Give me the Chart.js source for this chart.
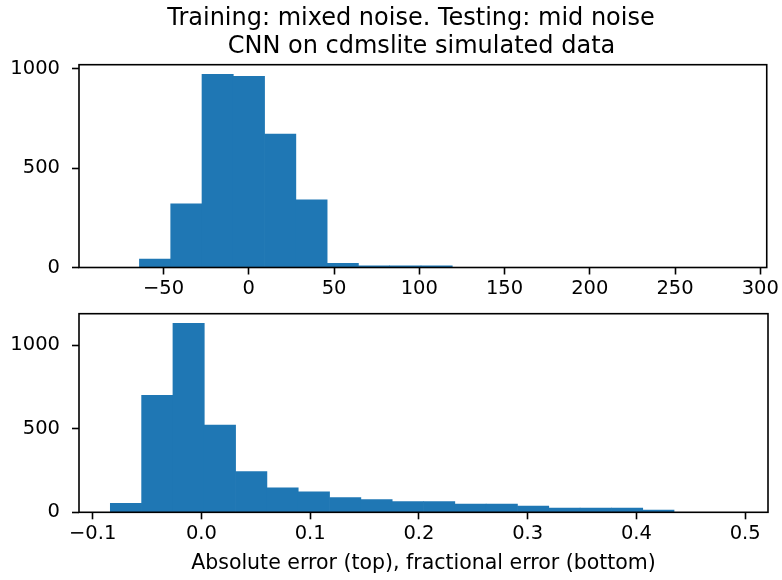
<!DOCTYPE html>
<html>
<head>
<meta charset="utf-8">
<title>CNN on cdmslite simulated data</title>
<script src="https://cdn.jsdelivr.net/npm/chart.js@4.4.1/dist/chart.umd.min.js"></script>
<style>
  html, body { margin: 0; padding: 0; background: #fff; }
  #wrap { position: relative; width: 782px; height: 580px; }
  .box { position: absolute; left: 0; width: 782px; }
  #topBox { top: 0; height: 300px; }
  #bottomBox { top: 290px; height: 290px; }
</style>
</head>
<body>
<div id="wrap">
  <div class="box" id="topBox"><canvas id="topChart" width="782" height="300"></canvas></div>
  <div class="box" id="bottomBox"><canvas id="bottomChart" width="782" height="290"></canvas></div>
</div>
<script>
// Texts
const titleLines = ["Training: mixed noise. Testing: mid noise", "CNN on cdmslite simulated data"];
const xLabel = "Absolute error (top), fractional error (bottom)";

// Top histogram: absolute error (20 bins)
const topEdges = [-82.5, -64.15, -45.8, -27.45, -9.1, 9.25, 27.6, 45.95, 64.3, 82.65, 101.0,
                  119.35, 137.7, 156.05, 174.4, 192.75, 211.1, 229.45, 247.8, 266.15, 284.5];
const topCounts = [0, 43, 321, 972, 962, 672, 341, 21, 9, 8, 8,
                   0, 0, 0, 0, 0, 0, 0, 0, 0];
const topXTicks = [-50, 0, 50, 100, 150, 200, 250, 300];
const topYTicks = [0, 500, 1000];

// Bottom histogram: fractional error (20 bins)
const bottomEdges = [-0.0838, -0.055, -0.0262, 0.0026, 0.0314, 0.0602, 0.089, 0.1178, 0.1466, 0.1754, 0.2042,
                     0.233, 0.2618, 0.2906, 0.3194, 0.3482, 0.377, 0.4058, 0.4346, 0.4634, 0.4922];
const bottomCounts = [53, 701, 1133, 522, 244, 147, 123, 88, 76, 64,
                      64, 50, 50, 37, 25, 25, 25, 13, 0, 0];
const bottomXTicks = [-0.1, 0, 0.1, 0.2, 0.3, 0.4, 0.5];
const bottomYTicks = [0, 500, 1000];

const BLUE = "#1f77b4";

Chart.defaults.font.family = '"DejaVu Sans", sans-serif';
Chart.defaults.font.size = 19.5;
Chart.defaults.color = "#000";
Chart.defaults.animation = false;

function minus(s) {
    return s.replace("-", "\u2212");
}

function toPoints(edges, counts) {
    return counts.map((c, i) => ({ x: (edges[i] + edges[i + 1]) / 2, y: c }));
}

// box around the plot area, like matplotlib spines
const frame = {
    id: "frame",
    afterDatasetsDraw(chart) {
        const { ctx, chartArea: a } = chart;
        ctx.save();
        ctx.strokeStyle = "#000";
        ctx.lineWidth = 1.6;
        ctx.strokeRect(a.left, a.top, a.right - a.left, a.bottom - a.top);
        ctx.restore();
    }
};

// two-line title above the top plot
const figTitle = {
    id: "figTitle",
    afterDraw(chart) {
        const ctx = chart.ctx;
        ctx.save();
        ctx.fillStyle = "#000";
        ctx.font = '24px "DejaVu Sans", sans-serif';
        ctx.textAlign = "center";
        ctx.textBaseline = "alphabetic";
        ctx.fillText(titleLines[0], 411, 25);
        ctx.fillText(titleLines[1], 421.5, 52.5);
        ctx.restore();
    }
};

function makeChart(canvasId, edges, counts, xTicks, yTicks, opts) {
    const tickGrid = {
        offset: false,
        drawOnChartArea: false,
        drawTicks: true,
        tickLength: 7,
        tickWidth: 1.6,
        tickColor: "#000"
    };
    return new Chart(document.getElementById(canvasId), {
        type: "bar",
        data: {
            datasets: [{
                data: toPoints(edges, counts),
                backgroundColor: BLUE,
                borderWidth: 0,
                barPercentage: 1,
                categoryPercentage: 1
            }]
        },
        options: {
            responsive: false,
            layout: { padding: { top: opts.padTop, right: 14, left: 0, bottom: 0 } },
            plugins: { legend: { display: false }, tooltip: { enabled: false } },
            scales: {
                x: {
                    type: "linear",
                    offset: false,
                    min: opts.xMin,
                    max: opts.xMax,
                    grid: tickGrid,
                    border: { display: false },
                    afterBuildTicks: s => { s.ticks = xTicks.map(v => ({ value: v })); },
                    afterFit: s => { s.height = opts.xHeight; },
                    ticks: {
                        padding: 3,
                        maxRotation: 0,
                        autoSkip: false,
                        callback: v => minus(opts.xFormat(v))
                    },
                    title: opts.xTitle
                },
                y: {
                    min: 0,
                    max: opts.yMax,
                    grid: tickGrid,
                    border: { display: false },
                    afterBuildTicks: s => { s.ticks = yTicks.map(v => ({ value: v })); },
                    afterFit: s => { s.width = 79; },
                    ticks: { padding: 12, callback: v => String(v) }
                }
            }
        },
        plugins: opts.plugins
    });
}

makeChart("topChart", topEdges, topCounts, topXTicks, topYTicks, {
    padTop: 64.7,
    xMin: -99.6, xMax: 303.8,
    yMax: 1021,
    xHeight: 32.5,
    xFormat: v => String(v),
    xTitle: { display: false },
    plugins: [frame, figTitle]
});

makeChart("bottomChart", bottomEdges, bottomCounts, bottomXTicks, bottomYTicks, {
    padTop: 19.3,
    xMin: -0.1126, xMax: 0.521,
    yMax: 1190,
    xHeight: 67.7,
    xFormat: v => v.toFixed(1),
    xTitle: { display: true, text: xLabel, font: { size: 20.5 }, padding: { top: 0, bottom: 4 } },
    plugins: [frame]
});
</script>
</body>
</html>
